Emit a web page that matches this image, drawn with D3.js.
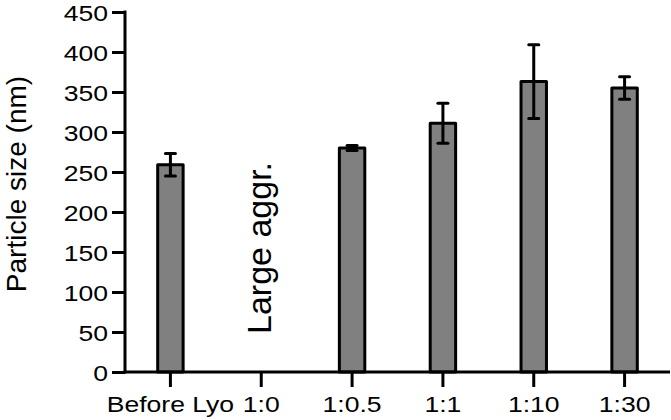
<!DOCTYPE html>
<html>
<head>
<meta charset="utf-8">
<script src="https://cdn.jsdelivr.net/npm/d3@7"></script>
<style>
  body { margin: 0; background: #fff; }
  svg { display: block; }
  text { font-family: "Liberation Sans", Arial, sans-serif; fill: #000; }
</style>
</head>
<body>
<div id="chart"></div>
<script>
// data
const categories = ["Before Lyo", "1:0", "1:0.5", "1:1", "1:10", "1:30"];
const means = [259, null, 280, 311, 363, 355];
const errors = [14, null, 3, 25, 46, 14];
const yTicks = [0, 50, 100, 150, 200, 250, 300, 350, 400, 450];

const WIDTH = 671, HEIGHT = 420;
const STRETCH = 1.18; // tick labels in the picture look wider than tall

const data = categories.map((c, i) => ({ cat: c, mean: means[i], err: errors[i] }));

const svg = d3.select("#chart")
    .append("svg")
    .attr("width", WIDTH)
    .attr("height", HEIGHT);

const x = d3.scaleBand()
    .domain(categories)
    .range([125, 670])
    .paddingInner(0.72)
    .paddingOuter(0.36);

const y = d3.scaleLinear()
    .domain([0, 450])
    .range([372, 12]);

// bars
svg.selectAll(".bar")
    .data(data.filter(d => d.mean != null))
    .enter().append("rect")
    .attr("class", "bar")
    .attr("x", d => x(d.cat))
    .attr("y", d => y(d.mean))
    .attr("width", x.bandwidth())
    .attr("height", d => y(0) - y(d.mean))
    .attr("fill", "#808080")
    .attr("stroke", "#000")
    .attr("stroke-width", 3)
    .attr("stroke-linejoin", "round");

// error bars
const eb = svg.selectAll(".err")
    .data(data.filter(d => d.mean != null))
    .enter().append("g")
    .attr("class", "err")
    .attr("transform", d => `translate(${x(d.cat) + x.bandwidth() / 2},0)`);

eb.append("line")
    .attr("y1", d => y(d.mean - d.err))
    .attr("y2", d => y(d.mean + d.err))
    .attr("stroke", "#000")
    .attr("stroke-width", 3);

eb.selectAll(".cap")
    .data(d => [d.mean - d.err, d.mean + d.err])
    .enter().append("line")
    .attr("class", "cap")
    .attr("x1", -5).attr("x2", 5)
    .attr("y1", v => y(v)).attr("y2", v => y(v))
    .attr("stroke", "#000")
    .attr("stroke-width", 3)
    .attr("stroke-linecap", "round");

// y axis
const yAxis = d3.axisLeft(y)
    .tickValues(yTicks)
    .tickSize(13)
    .tickSizeOuter(0);

const gy = svg.append("g")
    .attr("transform", "translate(125,0)")
    .call(yAxis);
gy.select(".domain").attr("stroke", "#000").attr("stroke-width", 3)
    .attr("d", `M0,${y(450) - 1.5}V${y(0) + 1.5}`);
gy.selectAll(".tick line").attr("stroke", "#000").attr("stroke-width", 3);
gy.selectAll(".tick text")
    .attr("font-size", 22.5)
    .attr("x", null)
    .attr("dy", null)
    .attr("transform", `translate(-17,8) scale(${STRETCH},1)`);

// x axis
const xAxis = d3.axisBottom(x)
    .tickSize(15)
    .tickSizeOuter(0);

const gx = svg.append("g")
    .attr("transform", `translate(0,${y(0)})`)
    .call(xAxis);
gx.select(".domain").attr("stroke", "#000").attr("stroke-width", 3)
    .attr("d", `M123.5,0H670`);
gx.selectAll(".tick line").attr("stroke", "#000").attr("stroke-width", 3);
gx.selectAll(".tick text")
    .attr("font-size", 22.5)
    .attr("y", null)
    .attr("dy", null)
    .attr("transform", `translate(0,40) scale(${STRETCH},1)`);

svg.selectAll(".domain").attr("fill", "none");

// y axis title
svg.append("text")
    .attr("text-anchor", "middle")
    .attr("font-size", 28)
    .attr("transform", `translate(25.5,184) rotate(-90)`)
    .text("Particle size (nm)");

// note in place of the missing bar
svg.append("text")
    .attr("text-anchor", "start")
    .attr("font-size", 34)
    .attr("transform", `translate(${x("1:0") + x.bandwidth() / 2 + 10},334) rotate(-90)`)
    .text("Large aggr.");
</script>
</body>
</html>
